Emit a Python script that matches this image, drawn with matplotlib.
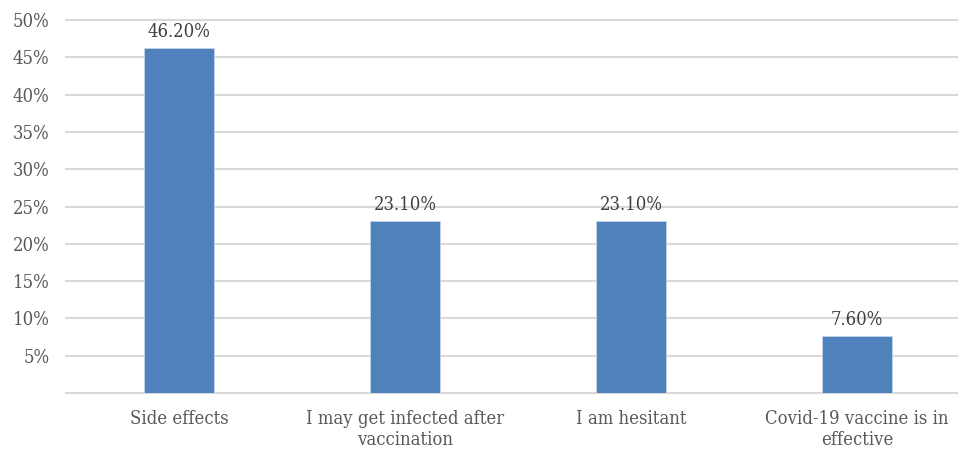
import matplotlib
matplotlib.use("Agg")
import matplotlib.pyplot as plt

categories = ["Side effects", "I may get infected after\nvaccination", "I am hesitant", "Covid-19 vaccine is in\neffective"]
values = [46.2, 23.1, 23.1, 7.6]
value_labels = ["46.20%", "23.10%", "23.10%", "7.60%"]
yticks = [5, 10, 15, 20, 25, 30, 35, 40, 45, 50]
ytick_labels = ["5%", "10%", "15%", "20%", "25%", "30%", "35%", "40%", "45%", "50%"]

plt.rcParams['font.family'] = ['DejaVu Serif']
plt.rcParams['font.stretch'] = 'condensed'
fs = 13.2
fig = plt.figure(figsize=(9.58, 4.49), dpi=100)
ax = fig.add_axes([66/958, 56/449, (958-66)/958, (393-20)/449])

x = list(range(len(categories)))
bars = ax.bar(x, values, width=0.31, color="#4f81bd", edgecolor="#c6d4e8", linewidth=0.6, zorder=3)
for xi, v, lab in zip(x, values, value_labels):
    ax.annotate(lab, (xi, v), xytext=(0, 5), textcoords="offset points", ha="center", va="bottom",
                fontsize=fs, color="#404040")

ax.set_ylim(0, 50)
ax.set_xlim(-0.5, 3.447)
ax.set_yticks(yticks)
ax.set_yticklabels(ytick_labels, fontsize=fs, color="#595959")
ax.set_xticks(x)
ax.set_xticklabels(categories, fontsize=fs, color="#595959", linespacing=1.25)
ax.tick_params(axis='both', length=0)
ax.tick_params(axis='x', pad=12)
ax.tick_params(axis='y', pad=12)
ax.yaxis.grid(True, color="#d9d9d9", linewidth=1.5, zorder=0)
for gl in ax.get_ygridlines():
    gl.set_clip_on(False)
ax.axhline(0, color="#d9d9d9", linewidth=1.5, zorder=1, clip_on=False)
for s in ax.spines.values():
    s.set_visible(False)

fig.savefig("out.png", dpi=100)
